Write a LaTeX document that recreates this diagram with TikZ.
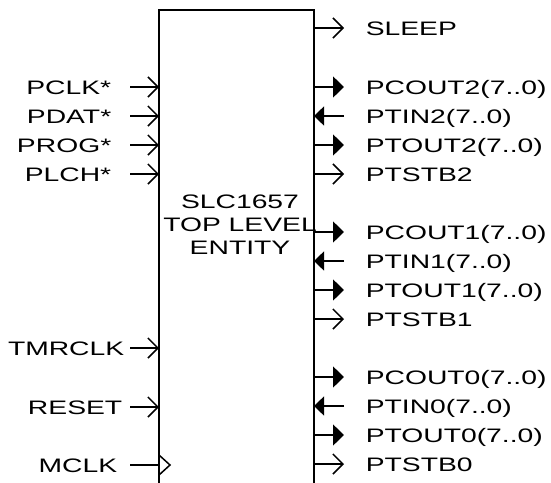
\documentclass[tikz,border=0pt]{standalone}
\usepackage{fontspec}
\setmainfont[FakeStretch=1.45]{Liberation Sans}
\usetikzlibrary{arrows.meta}
\begin{document}
\begin{tikzpicture}[x=1pt,y=-1pt,line width=1.5pt,
  lbl/.style={inner sep=0pt,text height=14pt,text depth=0pt,font=\fontsize{19.5}{23}\selectfont},
  inpin/.style={-{Straight Barb[length=10pt,width=20pt]}},
  outpin/.style={-{Straight Barb[length=10pt,width=20pt]}},
  busout/.style={-{Triangle[length=11pt,width=21pt]}},
  busin/.style={-{Triangle[length=10pt,width=19pt]}},
  boxline/.style={draw,line width=1.5pt}]
\useasboundingbox (0,0) rectangle (551,482);
% entity box (bottom edge below the page)
\node[boxline,minimum width=155pt,minimum height=484pt,inner sep=0pt] (box) at (236.5,252) {};
\node[align=center,inner sep=0pt,font=\fontsize{19.5}{23}\selectfont] (title) at (240,225) {SLC1657\\TOP LEVEL\\ENTITY};
% left inputs
\foreach \n/\t/\y/\lx in {pclk/PCLK*/87/112, pdat/PDAT*/116/112, prog/PROG*/145/112, plch/PLCH*/174/112, tmr/TMRCLK/348/125, rst/RESET/407/123}{
  \node[lbl,anchor=east] (\n) at (\lx,\y) {\t};
  \coordinate (\n S) at (130,\y);
  \coordinate (\n E) at (159,\y);
  \draw[inpin] (\n S) -- (\n E);
}
\node[lbl,anchor=east] (mclk) at (118,465) {MCLK};
\coordinate (mclkS) at (130,465);
\coordinate (mclkE) at (159,465);
\draw (mclkS) -- (mclkE);
\coordinate (clkA) at (159,455);
\coordinate (clkB) at (170,465);
\coordinate (clkC) at (159,475);
\draw[line join=miter] (clkA) -- (clkB) -- (clkC);
% right pins
\foreach \n/\t/\y/\k in {sleep/SLEEP/28/o, pcout2/PCOUT2(7..0)/87/b, ptin2/PTIN2(7..0)/116/i, ptout2/PTOUT2(7..0)/145/b, ptstb2/PTSTB2/174/o,
  pcout1/PCOUT1(7..0)/232/b, ptin1/PTIN1(7..0)/261/i, ptout1/PTOUT1(7..0)/290/b, ptstb1/PTSTB1/319/o,
  pcout0/PCOUT0(7..0)/377/b, ptin0/PTIN0(7..0)/406/i, ptout0/PTOUT0(7..0)/435/b, ptstb0/PTSTB0/464/o}{
  \node[lbl,anchor=west] (\n) at (365,\y) {\t};
  \coordinate (\n E) at (314,\y);
  \coordinate (\n S) at (344,\y);
  \if\k o \draw[outpin] (\n E) -- (\n S); \fi
  \if\k b \draw[busout] (\n E) -- (\n S); \fi
  \if\k i \draw[busin] (\n S) -- (\n E); \fi
}
\end{tikzpicture}
\end{document}
